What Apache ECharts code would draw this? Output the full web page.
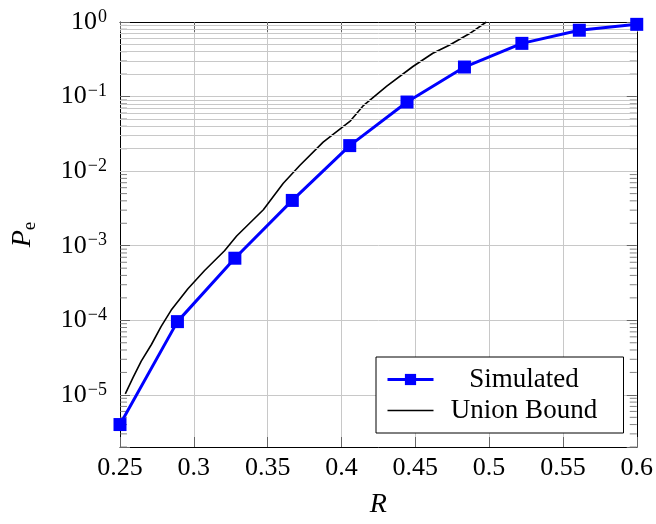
<!DOCTYPE html>
<html><head><meta charset="utf-8">
<script src="https://cdn.jsdelivr.net/npm/echarts@6/dist/echarts.min.js"></script>
<style>html,body{margin:0;padding:0;background:#fff}#c{width:656px;height:524px}</style>
</head><body><div id="c"></div>
<script>
// ---- data ----
const simX = [0.25, 0.2889, 0.3278, 0.3667, 0.4056, 0.4444, 0.4833, 0.5222, 0.5611, 0.6];
const simY = [4.0e-6, 9.6e-5, 6.8e-4, 4.05e-3, 2.2e-2, 8.45e-2, 0.249, 0.517, 0.776, 0.93];
const ubX = [0.2536, 0.2588, 0.2644, 0.2712, 0.2779, 0.2847, 0.2960, 0.3073, 0.3208, 0.3290, 0.3471, 0.3606, 0.3719, 0.3876, 0.4061, 0.4146, 0.4307, 0.4484, 0.4619, 0.4733, 0.4868, 0.4981];
const ubY = [1.03e-5, 1.7e-5, 2.84e-5, 4.7e-5, 8.3e-5, 1.37e-4, 2.65e-4, 4.65e-4, 8.55e-4, 1.35e-3, 3.04e-3, 6.87e-3, 1.2e-2, 2.45e-2, 4.73e-2, 7.48e-2, 0.138, 0.253, 0.381, 0.491, 0.70, 1.0];
const seriesNames = ['Simulated', 'Union Bound'];
const xMin = 0.25, xMax = 0.6, xStep = 0.05;
const yMin = 2e-6, yMax = 1;
const minorMultipliers = [2, 3, 4, 5, 6, 7, 8, 9];
const minorDecades = [1e-6, 1e-5, 1e-4, 1e-3, 1e-2, 1e-1];

// ---- derived ----
const FONT = 'Liberation Serif';
const minorVals = [];
minorDecades.forEach(d => minorMultipliers.forEach(m => { const v = m * d; if (v >= yMin * 0.999 && v < yMax) minorVals.push(v); }));

function yFmt(v) {
  const l = Math.log10(v); const e = Math.round(l);
  if (Math.abs(l - e) > 1e-6) return '';
  return '{b|10}{s|' + (e < 0 ? '\u2212' + (-e) : String(e)) + '}';
}
const yRich = {
  b: { fontFamily: FONT, fontSize: 26, color: '#000', lineHeight: 30 },
  s: { fontFamily: FONT, fontSize: 18, color: '#000', verticalAlign: 'top', lineHeight: 18, padding: [1, 0, 0, 1] }
};
const gridColor = '#c8c8c8';
const tickColor = '#666';

const chart = echarts.init(document.getElementById('c'), null, { renderer: 'canvas' });
chart.setOption({
  animation: false,
  backgroundColor: '#fff',
  grid: { left: 120, right: 19, top: 22, bottom: 72 },
  xAxis: [{
    type: 'value', min: xMin, max: xMax, interval: xStep, position: 'bottom',
    axisLine: { show: true, onZero: false, lineStyle: { color: '#000', width: 1 } },
    axisTick: { show: true, inside: true, length: 10, lineStyle: { color: tickColor } },
    axisLabel: { fontFamily: FONT, fontSize: 26, color: '#000', margin: 8 },
    splitLine: { show: true, lineStyle: { color: gridColor, width: 1 } },
    name: 'R', nameLocation: 'middle', nameGap: 44,
    nameTextStyle: { fontFamily: FONT, fontSize: 28, fontStyle: 'italic', color: '#000' }
  }, {
    type: 'value', min: xMin, max: xMax, interval: xStep, position: 'top',
    axisLine: { show: true, onZero: false, lineStyle: { color: '#000', width: 1 } },
    axisTick: { show: true, inside: true, length: 10, lineStyle: { color: tickColor } },
    axisLabel: { show: false }, splitLine: { show: false }
  }],
  yAxis: [{
    type: 'log', min: yMin, max: yMax, logBase: 10, position: 'left',
    axisLine: { show: true, onZero: false, lineStyle: { color: '#000', width: 1 } },
    axisTick: { show: true, inside: true, length: 10, lineStyle: { color: tickColor } },
    axisLabel: { formatter: yFmt, rich: yRich, margin: 13 },
    splitLine: { show: true, lineStyle: { color: gridColor, width: 1 } },
    name: '{i|P}{sub|e}', nameLocation: 'middle', nameGap: 80,
    nameTextStyle: { rich: {
      i: { fontFamily: FONT, fontSize: 28, fontStyle: 'italic', color: '#000', lineHeight: 34 },
      sub: { fontFamily: FONT, fontSize: 19, color: '#000', verticalAlign: 'bottom', lineHeight: 19 }
    } }
  }, {
    type: 'log', min: yMin, max: yMax, logBase: 10, position: 'right',
    axisLine: { show: true, onZero: false, lineStyle: { color: '#000', width: 1 } },
    axisTick: { show: true, inside: true, length: 10, lineStyle: { color: tickColor } },
    axisLabel: { show: false }, splitLine: { show: false }
  }],
  legend: {
    data: [
      { name: seriesNames[0] },
      { name: seriesNames[1], icon: 'path://M0 0H46V1.6H0Z' }
    ],
    orient: 'vertical', left: 376, top: 357,
    padding: [9, 14, 9, 10], itemGap: 4, itemWidth: 46, itemHeight: 14,
    borderColor: '#000', borderWidth: 1, borderRadius: 0, backgroundColor: '#fff',
    lineStyle: { width: 'inherit' },
    formatter: n => '{t|' + n + '}',
    textStyle: { rich: { t: { fontFamily: FONT, fontSize: 27, color: '#000', width: 171, align: 'center', lineHeight: 30 } } }
  },
  series: [
    {
      name: 'minorGrid', type: 'line', data: [], z: 1, silent: true, symbol: 'none',
      markLine: {
        silent: true, symbol: ['none', 'none'], label: { show: false }, animation: false,
        lineStyle: { color: gridColor, width: 1, type: 'solid' },
        data: minorVals.map(v => ({ yAxis: v }))
      }
    },
    {
      name: 'minorTicksL', type: 'scatter', z: 3, silent: true, symbol: 'rect',
      symbolSize: [7, 1], symbolOffset: [3.5, 0], itemStyle: { color: tickColor },
      data: minorVals.map(v => [xMin, v])
    },
    {
      name: 'minorTicksR', type: 'scatter', z: 3, silent: true, symbol: 'rect',
      symbolSize: [7, 1], symbolOffset: [-3.5, 0], itemStyle: { color: tickColor },
      data: minorVals.map(v => [xMax, v])
    },
    {
      name: seriesNames[1], type: 'line', z: 4, symbol: 'none', smooth: false,
      lineStyle: { color: '#000', width: 1.6 }, itemStyle: { color: '#000' },
      data: ubX.map((x, i) => [x, ubY[i]])
    },
    {
      name: seriesNames[0], type: 'line', z: 5, symbol: 'rect', symbolSize: 13, showSymbol: true,
      lineStyle: { color: '#0000ff', width: 3 }, itemStyle: { color: '#0000ff' },
      data: simX.map((x, i) => [x, simY[i]])
    }
  ]
});
</script>
</body></html>
